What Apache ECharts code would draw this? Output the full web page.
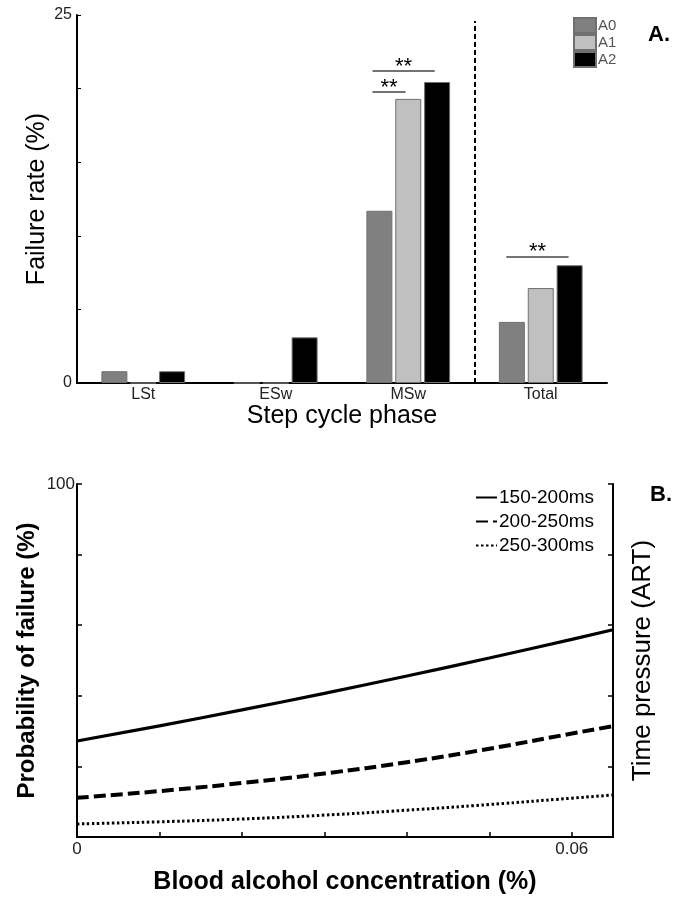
<!DOCTYPE html>
<html>
<head>
<meta charset="utf-8">
<script src="https://cdn.jsdelivr.net/npm/echarts@6/dist/echarts.min.js"></script>
<style>
  html, body { margin: 0; padding: 0; background: #fff; }
  #chart { width: 685px; height: 900px; }
</style>
</head>
<body>
<div id="chart"></div>
<script>
// panel A: failure rate per step cycle phase
const phases = ['LSt', 'ESw', 'MSw', 'Total']
const groupNames = ['A0', 'A1', 'A2']
const rateA0 = [0.8, 0, 11.7, 4.15]
const rateA1 = [0, 0, 19.3, 6.45]
const rateA2 = [0.8, 3.1, 20.45, 8.0]
const barColors = ['#808080', '#c0c0c0', '#000000']

// significance bars, in phase units (0..4) and rate
const sigBars = [
  { from: 2.23, to: 2.48, level: 19.8, text: '**' },
  { from: 2.23, to: 2.70, level: 21.2, text: '**' },
  { from: 3.24, to: 3.71, level: 8.6, text: '**' }
]
const dividerAt = 3

// panel B: probability of failure vs blood alcohol
const bac = [0, 0.01, 0.02, 0.03, 0.04, 0.05, 0.06, 0.065]
const p150 = [27.2, 31.5, 36.0, 40.7, 45.6, 50.7, 56.0, 58.7]
const p200 = [11.1, 13.0, 15.3, 18.0, 21.2, 25.0, 29.3, 31.4]
const p250 = [3.7, 4.3, 5.1, 6.2, 7.6, 9.2, 11.0, 11.9]
const timeNames = ['150-200ms', '200-250ms', '250-300ms']

const font = 'Liberation Sans, Arial, sans-serif'
const axisLine = { lineStyle: { color: '#000', width: 2 } }

const chart = echarts.init(document.getElementById('chart'))

const rates = [rateA0, rateA1, rateA2]
const barSeries = groupNames.map((name, i) => ({
  name,
  type: 'bar',
  xAxisIndex: 0,
  yAxisIndex: 0,
  data: rates[i],
  barWidth: 26,
  barGap: '11%',
  itemStyle: { color: barColors[i], borderColor: '#707070', borderWidth: 1 }
}))

const timeData = [p150, p200, p250]
const lineTypes = [
  { type: 'solid', width: 3.2 },
  { type: [12, 5], width: 4 },
  { type: [2.5, 2.5], width: 3 }
]
const lineSeries = timeNames.map((name, i) => ({
  name,
  type: 'line',
  xAxisIndex: 2,
  yAxisIndex: 1,
  symbol: 'none',
  smooth: true,
  data: bac.map((x, j) => [x, timeData[i][j]]),
  lineStyle: { color: '#000', width: lineTypes[i].width, type: lineTypes[i].type },
  itemStyle: { color: '#000' }
}))

const option = {
  animation: false,
  textStyle: { fontFamily: font },
  title: [
    { text: 'A.', left: 643, top: 19, textStyle: { fontSize: 22, fontWeight: 'bold', color: '#000' } },
    { text: 'B.', left: 645, top: 479, textStyle: { fontSize: 22, fontWeight: 'bold', color: '#000' } }
  ],
  legend: [
    {
      data: groupNames,
      orient: 'vertical',
      left: 573,
      top: 17,
      padding: 0,
      icon: 'rect',
      itemWidth: 22,
      itemHeight: 15,
      itemGap: 0,
      textStyle: { color: '#555', fontSize: 15, padding: [0, 0, 0, -3] }
    },
    {
      data: timeNames,
      orient: 'vertical',
      left: 475,
      top: 488,
      padding: 0,
      itemWidth: 21,
      itemHeight: 10,
      itemGap: 5,
      itemStyle: { opacity: 0 },
      textStyle: { color: '#000', fontSize: 19, padding: [0, 0, 0, -3] }
    }
  ],
  grid: [
    { left: 77, right: 78, top: 15, bottom: 517 },
    { left: 77, right: 72, top: 484, bottom: 63 }
  ],
  xAxis: [
    {
      type: 'category',
      gridIndex: 0,
      data: phases,
      name: 'Step cycle phase',
      nameLocation: 'middle',
      nameGap: 21,
      nameMoveOverlap: false,
      nameTextStyle: { fontSize: 25, color: '#000' },
      axisLine,
      axisTick: { inside: true, alignWithLabel: true, length: 5, lineStyle: { color: '#000' } },
      axisLabel: { fontSize: 16, color: '#222', margin: 4 }
    },
    {
      type: 'value',
      gridIndex: 0,
      min: 0,
      max: 4,
      show: false
    },
    {
      type: 'value',
      gridIndex: 1,
      min: 0,
      max: 0.065,
      interval: 0.01,
      name: 'Blood alcohol concentration (%)',
      nameLocation: 'middle',
      nameGap: 33,
      nameMoveOverlap: false,
      nameTextStyle: { fontSize: 25, fontWeight: 'bold', color: '#000' },
      axisLine,
      splitLine: { show: false },
      axisTick: { inside: true, length: 5, lineStyle: { color: '#000', width: 1.5 } },
      axisLabel: {
        fontSize: 17,
        color: '#222',
        margin: 4,
        showMaxLabel: false,
        formatter: v => (v === 0 ? '0' : Math.abs(v - 0.06) < 1e-9 ? '0.06' : '')
      }
    }
  ],
  yAxis: [
    {
      type: 'value',
      gridIndex: 0,
      min: 0,
      max: 25,
      interval: 5,
      name: 'Failure rate (%)',
      nameLocation: 'middle',
      nameGap: 27,
      nameMoveOverlap: false,
      nameTextStyle: { fontSize: 25, color: '#000' },
      axisLine: { show: true, lineStyle: { color: '#000', width: 2 } },
      splitLine: { show: false },
      axisTick: { show: true, inside: true, length: 4, lineStyle: { color: '#000' } },
      axisLabel: { fontSize: 16, color: '#222', margin: 5, formatter: v => (v === 0 || v === 25 ? String(v) : '') }
    },
    {
      type: 'value',
      gridIndex: 1,
      min: 0,
      max: 100,
      interval: 20,
      name: 'Probability of failure (%)',
      nameLocation: 'middle',
      nameGap: 38,
      nameMoveOverlap: false,
      nameTextStyle: { fontSize: 24, fontWeight: 'bold', color: '#000' },
      axisLine: { show: true, lineStyle: { color: '#000', width: 2 } },
      splitLine: { show: false },
      axisTick: { show: true, inside: true, length: 5, lineStyle: { color: '#000', width: 1.5 } },
      axisLabel: { fontSize: 17, color: '#222', margin: 2, formatter: v => (v === 100 ? '100' : '') }
    },
    {
      type: 'value',
      gridIndex: 1,
      position: 'right',
      min: 0,
      max: 100,
      interval: 20,
      name: 'Time pressure (ART)',
      nameLocation: 'middle',
      nameGap: 17,
      nameRotate: 90,
      nameMoveOverlap: false,
      nameTextStyle: { fontSize: 26, color: '#000' },
      axisLine: { show: true, lineStyle: { color: '#000', width: 2 } },
      splitLine: { show: false },
      axisTick: { show: true, inside: true, length: 5, lineStyle: { color: '#000', width: 1.5 } },
      axisLabel: { show: false }
    }
  ],
  series: [
    ...barSeries,
    {
      type: 'line',
      xAxisIndex: 1,
      yAxisIndex: 0,
      data: [],
      silent: true,
      markLine: {
        symbol: 'none',
        silent: true,
        animation: false,
        data: [
          [
            { coord: [dividerAt, 0], lineStyle: { color: '#000', width: 2, type: [5, 3] }, label: { show: false } },
            { coord: [dividerAt, 24.6] }
          ],
          ...sigBars.map(s => [
            {
              coord: [s.from, s.level],
              lineStyle: { color: '#444', width: 1.5, type: 'solid' },
              label: { show: true, position: 'middle', formatter: s.text, fontSize: 22, color: '#000', distance: -7 }
            },
            { coord: [s.to, s.level] }
          ])
        ]
      }
    },
    ...lineSeries
  ]
}

chart.setOption(option)
</script>
</body>
</html>
